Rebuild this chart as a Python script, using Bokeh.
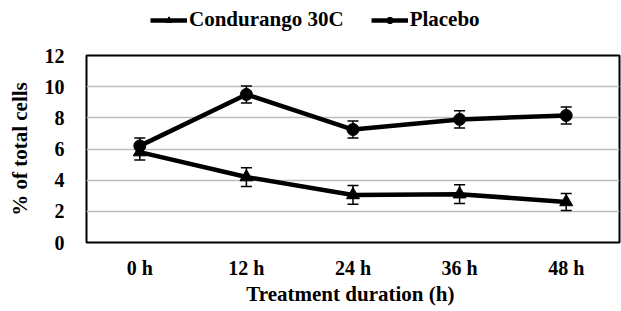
from bokeh.plotting import figure
from bokeh.models import ColumnDataSource, Whisker, Legend, LegendItem, FactorRange
from bokeh.layouts import column
from bokeh.embed import file_html
from bokeh.resources import INLINE

times = ["0 h", "12 h", "24 h", "36 h", "48 h"]
condurango = [5.8, 4.2, 3.05, 3.1, 2.6]
condurango_err = [0.5, 0.6, 0.6, 0.6, 0.55]
placebo = [6.2, 9.5, 7.25, 7.9, 8.15]
placebo_err = [0.5, 0.55, 0.55, 0.55, 0.55]
y_ticks = [0, 2, 4, 6, 8, 10, 12]
x_title = "Treatment duration  (h)"
y_title = "% of total cells"

FONT = "Liberation Serif"
LEG_H = 45

p = figure(width=621, height=311 - LEG_H, x_range=FactorRange(*times), y_range=(0, 12),
           output_backend="svg", toolbar_location=None,
           min_border_left=86, min_border_right=2, min_border_top=10, min_border_bottom=69)

src_c = ColumnDataSource(dict(x=times, y=condurango,
                              lo=[v - e for v, e in zip(condurango, condurango_err)],
                              hi=[v + e for v, e in zip(condurango, condurango_err)]))
src_p = ColumnDataSource(dict(x=times, y=placebo,
                              lo=[v - e for v, e in zip(placebo, placebo_err)],
                              hi=[v + e for v, e in zip(placebo, placebo_err)]))

for src in (src_c, src_p):
    w = Whisker(base="x", upper="hi", lower="lo", source=src, line_color="black", line_width=1.5)
    w.upper_head.size = 11
    w.lower_head.size = 11
    w.upper_head.line_width = 1.5
    w.lower_head.line_width = 1.5
    p.add_layout(w)


def draw(fig):
    lc = fig.line("x", "y", source=src_c, line_color="black", line_width=4.5)
    mc = fig.scatter("x", "y", source=src_c, marker="triangle", size=13, color="black")
    lp = fig.line("x", "y", source=src_p, line_color="black", line_width=4.5)
    mp = fig.scatter("x", "y", source=src_p, marker="circle", size=12, color="black")
    return lc, mc, lp, mp


draw(p)

p.outline_line_color = "black"
p.outline_line_width = 2
p.xgrid.grid_line_color = None
p.ygrid.grid_line_color = "#bdbdbd"
p.ygrid.grid_line_width = 1.5
p.yaxis.ticker = y_ticks

for ax in (p.xaxis, p.yaxis):
    ax.axis_line_color = None
    ax.major_tick_line_color = None
    ax.minor_tick_line_color = None
    ax.major_label_text_font = FONT
    ax.major_label_text_font_style = "bold"
    ax.major_label_text_font_size = "20px"
    ax.major_label_text_color = "black"
    ax.axis_label_text_font = FONT
    ax.axis_label_text_font_style = "bold"
    ax.axis_label_text_font_size = "21px"
    ax.axis_label_text_color = "black"

p.yaxis.major_label_standoff = 16
p.xaxis.major_label_standoff = 8
p.yaxis.axis_label = y_title
p.yaxis.axis_label_standoff = 10
p.xaxis.axis_label = x_title
p.xaxis.axis_label_standoff = 0

# legend strip: same series drawn off-range so only the legend shows
lf = figure(width=621, height=LEG_H, x_range=FactorRange(*times), y_range=(100, 101),
            output_backend="svg", toolbar_location=None,
            x_axis_location=None, y_axis_location=None, min_border=0)
lf.outline_line_color = None
lf.grid.grid_line_color = None
lc, mc, lp, mp = draw(lf)
legend = Legend(items=[LegendItem(label="Condurango 30C", renderers=[lc, mc]),
                       LegendItem(label="Placebo", renderers=[lp, mp])],
                orientation="horizontal", location=(64, 13),
                label_text_font=FONT, label_text_font_style="bold", label_text_font_size="21px",
                label_text_color="black",
                glyph_width=37, glyph_height=16, spacing=27, padding=2, margin=0,
                label_standoff=2, border_line_color=None, background_fill_alpha=0)
lf.add_layout(legend)

layout = column(lf, p, spacing=0)
open("out.html", "w").write(file_html(layout, INLINE))
